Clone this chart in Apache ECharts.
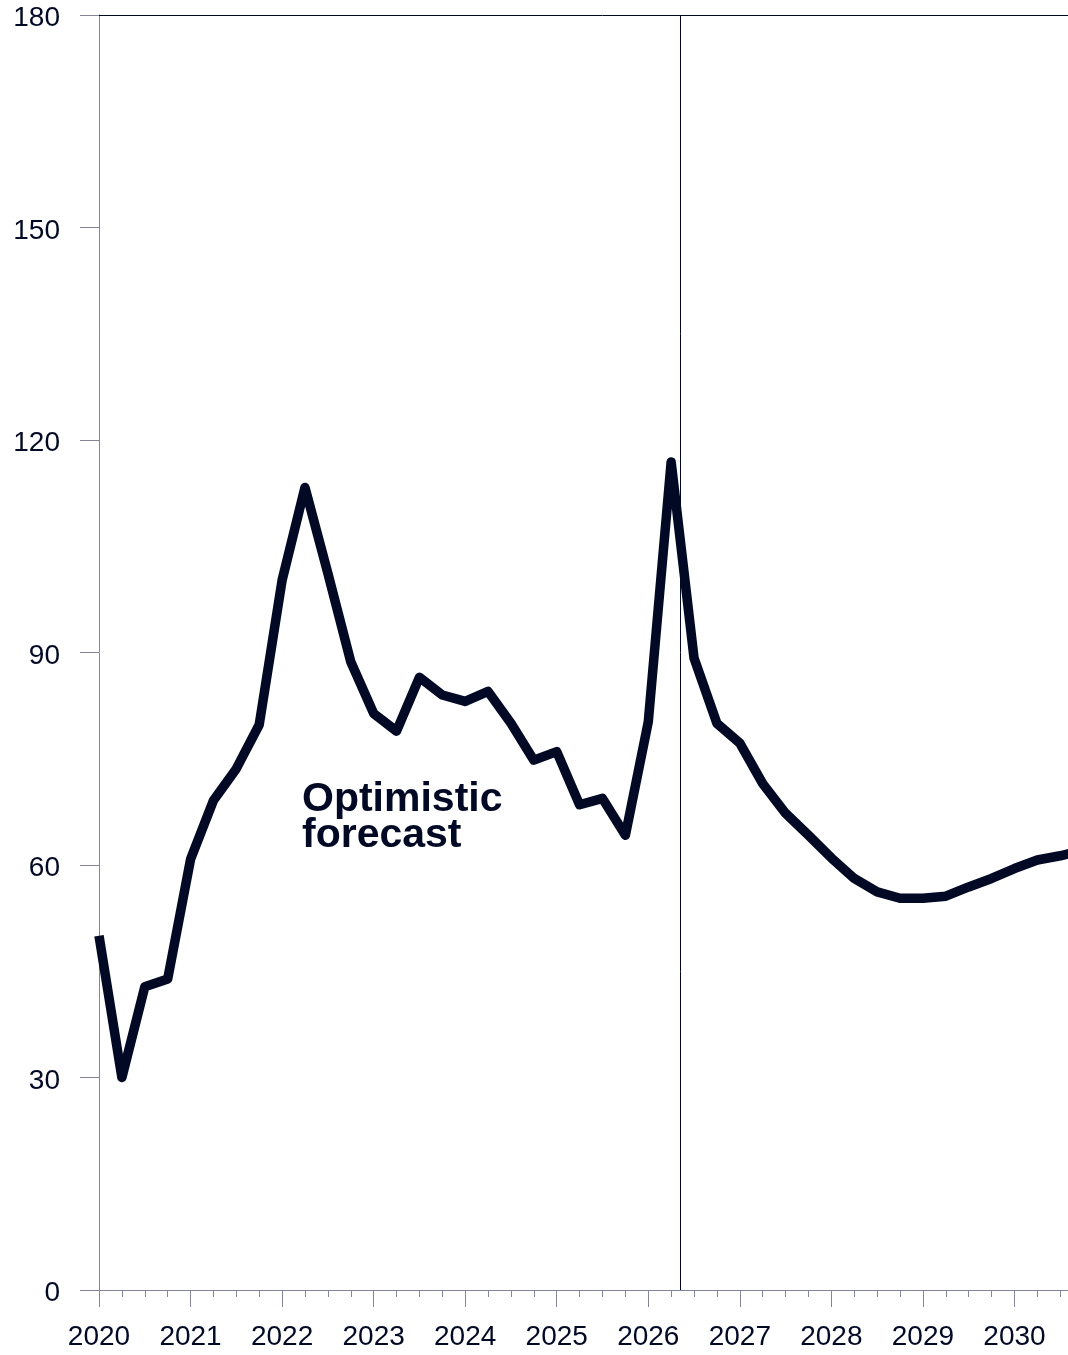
<!DOCTYPE html>
<html>
<head>
<meta charset="utf-8">
<script src="https://cdn.jsdelivr.net/npm/echarts@6/dist/echarts.min.js"></script>
<style>
  html, body { margin: 0; padding: 0; overflow: hidden; background: #fff; }
  /* chart is a little wider than the window: the reference is cropped at 2030.6 */
  #chart { width: 1110px; height: 1355px; }
</style>
</head>
<body>
<div id="chart"></div>
<script>
  // quarters (decimal years) and index values
  const quarters = [
    2020.00, 2020.25, 2020.50, 2020.75, 2021.00, 2021.25, 2021.50, 2021.75,
    2022.00, 2022.25, 2022.50, 2022.75, 2023.00, 2023.25, 2023.50, 2023.75,
    2024.00, 2024.25, 2024.50, 2024.75, 2025.00, 2025.25, 2025.50, 2025.75,
    2026.00, 2026.25, 2026.50, 2026.75, 2027.00, 2027.25, 2027.50, 2027.75,
    2028.00, 2028.25, 2028.50, 2028.75, 2029.00, 2029.25, 2029.50, 2029.75,
    2030.00, 2030.25, 2030.50, 2030.75
  ];
  const values = [
    50.0, 30.0, 42.8, 43.9, 60.8, 69.1, 73.6, 79.8,
    100.2, 113.3, 101.2, 88.7, 81.4, 78.9, 86.5, 84.0,
    83.1, 84.5, 80.0, 74.8, 76.0, 68.5, 69.4, 64.2,
    80.2, 116.9, 89.2, 80.0, 77.2, 71.5, 67.3, 64.2,
    61.0, 58.1, 56.2, 55.3, 55.3, 55.6, 56.9, 58.1,
    59.5, 60.7, 61.3, 62.1
  ];
  const yTicks = [0, 30, 60, 90, 120, 150, 180];
  const forecastStart = 2026.35;   // vertical divider
  const annotation = 'Optimistic\nforecast';

  const navy = '#020924';
  const grey = '#85859a';

  let chart = echarts.init(document.getElementById('chart'));
  chart.setOption({
    animation: false,
    grid: { left: 99, right: 4, top: 15, bottom: 65 },
    xAxis: [{
      type: 'value',
      min: 2020,
      max: 2031,
      interval: 1,
      splitLine: { show: false },
      axisLine: { onZero: false, lineStyle: { color: grey, width: 1 } },
      axisTick: { length: 17, lineStyle: { color: grey } },
      minorTick: { show: true, splitNumber: 4, length: 7, lineStyle: { color: grey } },
      axisLabel: {
        margin: 33,
        fontFamily: 'Liberation Sans, Arial, sans-serif',
        fontSize: 28,
        color: navy,
        showMaxLabel: false,
        formatter: v => String(v)
      }
    }, {
      // top frame line
      type: 'value',
      position: 'top',
      min: 2020,
      max: 2031,
      axisLine: { show: true, onZero: false, lineStyle: { color: navy, width: 1 } },
      axisTick: { show: false },
      axisLabel: { show: false },
      splitLine: { show: false }
    }],
    yAxis: {
      type: 'value',
      min: yTicks[0],
      max: yTicks[yTicks.length - 1],
      interval: 30,
      splitLine: { show: false },
      axisLine: { show: true, lineStyle: { color: grey, width: 1 } },
      axisTick: { show: true, length: 19, lineStyle: { color: grey } },
      axisLabel: {
        margin: 39,
        verticalAlign: 'top',
        lineHeight: 7,
        fontFamily: 'Liberation Sans, Arial, sans-serif',
        fontSize: 28,
        color: navy
      }
    },
    graphic: [{
      type: 'text',
      left: 302,
      top: 779,
      style: {
        text: annotation,
        fontFamily: 'Liberation Sans, Arial, sans-serif',
        fontWeight: 'bold',
        fontSize: 41,
        lineHeight: 36,
        fill: navy
      }
    }],
    series: [{
      type: 'line',
      data: quarters.map((q, i) => [q, values[i]]),
      showSymbol: false,
      clip: false,
      lineStyle: { color: navy, width: 9.5, cap: 'butt', join: 'round' },
      markLine: {
        silent: true,
        symbol: 'none',
        label: { show: false },
        lineStyle: { color: navy, width: 1, type: 'solid' },
        data: [{ xAxis: forecastStart }]
      }
    }]
  });
</script>
</body>
</html>
